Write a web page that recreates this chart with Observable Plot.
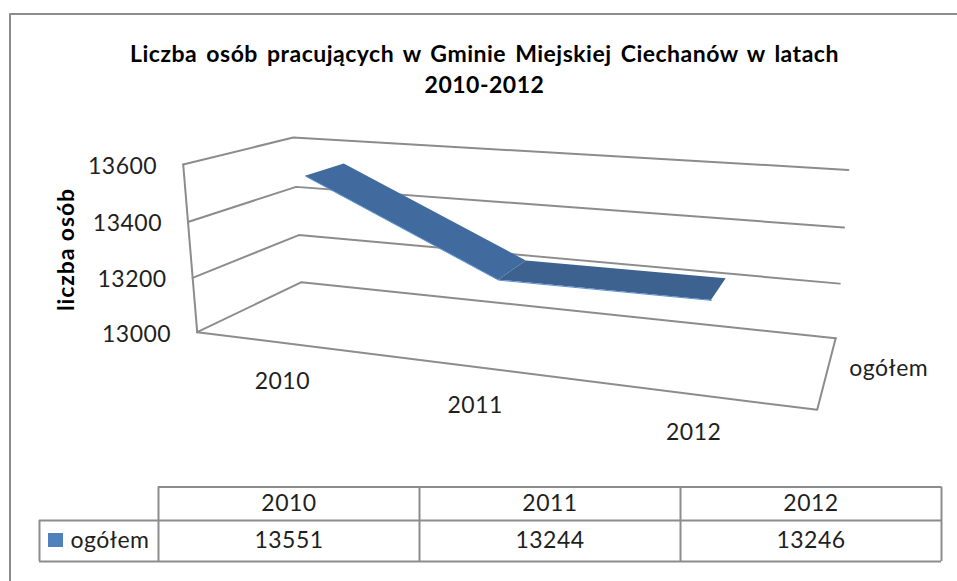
<!DOCTYPE html>
<html lang="pl">
<head>
<meta charset="utf-8">
<script src="https://cdn.jsdelivr.net/npm/d3@7"></script>
<script src="https://cdn.jsdelivr.net/npm/@observablehq/plot@0.6"></script>
<style>
html,body{margin:0;padding:0;background:#fff}
svg{display:block}
.lbl{letter-spacing:.5px}
.ttl{letter-spacing:.5px;word-spacing:3px}
.ax{letter-spacing:.9px}
</style>
</head>
<body>
<div id="chart"></div>
<script>
// data
const years = [2010, 2011, 2012];
const totals = [13551, 13244, 13246];
const seriesName = "ogółem";
const yTicks = [13000, 13200, 13400, 13600];
const titleLines = ["Liczba osób pracujących w Gminie Miejskiej Ciechanów w latach", "2010-2012"];
const yTitle = "liczba osób";

// 3-D box -> page plane: a projective camera fitted to the reference box
const camera = {
  origin: [196.7, 331.7],
  uEnd: [816.7, 409.3], uW: 0.8286,
  vEnd: [182.7, 164], vW: 0.96,
  dEnd: [301, 281.7], dW: 1.1666
};
const ribbonDepth = [0.27, 0.66];
const catU = i => (i + 0.5) / years.length;
const valV = v => (v - yTicks[0]) / (yTicks[yTicks.length - 1] - yTicks[0]);
function project(u, v, d) {
  const c = camera, D = 1 + (c.uW - 1) * u + (c.vW - 1) * v + (c.dW - 1) * d;
  const at = k => (c.origin[k]
    + (c.uW * c.uEnd[k] - c.origin[k]) * u
    + (c.vW * c.vEnd[k] - c.origin[k]) * v
    + (c.dW * c.dEnd[k] - c.origin[k]) * d) / D;
  return [at(0), at(1)];
}

// grid: left wall + back wall polylines at each tick
const gridLines = yTicks.map(t => [project(0, valV(t), 0), project(0, valV(t), 1), project(1, valV(t), 1)]);
const floorEdge = [project(0, 0, 0), project(1, 0, 0), project(1, 0, 1)];
const valueAxis = [project(0, 1, 0), project(0, 0, 0)];
const tickLabels = yTicks.map(t => ({p: project(0, valV(t), 0), label: String(t)}));
const catLabels = years.map((y, i) => ({p: project(catU(i), 0, 0), label: String(y)}));
const seriesLabel = [{p: project(1, 0, 0.5), label: seriesName}];
const ribbon = i => [i, i + 1].map(j => ({
  a: project(catU(j), valV(totals[j]), ribbonDepth[0]),
  b: project(catU(j), valV(totals[j]), ribbonDepth[1])
}));
const frontEdge = totals.map((v, j) => project(catU(j), valV(v), ribbonDepth[0]));

// data table layout
const tableX = [39, 158, 419, 680, 941];
const tableY = [486.5, 520, 561];
const rowMid = [503, 540];
const colMid = [0, 1, 2].map(i => (tableX[i + 1] + tableX[i + 2]) / 2);
const tableCells = [
  ...years.map((y, i) => ({x: colMid[i], y: rowMid[0], label: String(y)})),
  ...totals.map((v, i) => ({x: colMid[i], y: rowMid[1], label: String(v)}))
];

const grey = "#8c8c8c", ink = "#1f1f1f", font = "Lato", size = 23;
const gridOpts = {x: p => p[0], y: p => p[1], stroke: grey, strokeWidth: 2, curve: "linear"};

const plot = Plot.plot({
  width: 957, height: 581, margin: 0,
  x: {domain: [0, 957], range: [0, 957], axis: null},
  y: {domain: [0, 581], range: [0, 581], axis: null},
  style: {background: "#fff"},
  marks: [
    // outer frame (top and left edges are all that show)
    Plot.ruleY([13.5], {x1: 9.5, x2: 957, stroke: grey, strokeWidth: 2}),
    Plot.ruleX([9.5], {y1: 13.5, y2: 581, stroke: grey, strokeWidth: 2}),
    // title
    Plot.text(titleLines, {x: 484, y: (d, i) => 54 + i * 31.5, text: d => d, fontFamily: font, fontWeight: 700, fontSize: 23, fill: "#000", className: "ttl"}),
    Plot.text([yTitle], {x: 66, y: 249, text: d => d, rotate: -90, fontFamily: font, fontWeight: 700, fontSize: 23, fill: "#000", className: "ax"}),
    // box
    ...gridLines.map(l => Plot.line(l, gridOpts)),
    Plot.line(floorEdge, gridOpts),
    Plot.line(valueAxis, gridOpts),
    // series ribbon
    Plot.area(ribbon(0), {x1: d => d.a[0], y1: d => d.a[1], x2: d => d.b[0], y2: d => d.b[1], fill: "#416b9f", curve: "linear"}),
    Plot.area(ribbon(1), {x1: d => d.a[0], y1: d => d.a[1], x2: d => d.b[0], y2: d => d.b[1], fill: "#3e6290", curve: "linear"}),
    Plot.line(frontEdge, {x: p => p[0], y: p => p[1], stroke: "#5b8fd0", strokeWidth: 1, curve: "linear"}),
    // axis labels
    Plot.text(tickLabels, {x: d => d.p[0], y: d => d.p[1], text: "label", dx: -26, dy: 2, textAnchor: "end", fontFamily: font, fontSize: size, fill: ink, className: "lbl"}),
    Plot.text(catLabels, {x: d => d.p[0], y: d => d.p[1], text: "label", dx: -3, dy: 38, fontFamily: font, fontSize: size, fill: ink, className: "lbl"}),
    Plot.text(seriesLabel, {x: d => d.p[0], y: d => d.p[1], text: "label", dx: 22, dy: -2, textAnchor: "start", fontFamily: font, fontSize: size, fill: ink, className: "lbl"}),
    // data table
    Plot.ruleY([tableY[0]], {x1: tableX[1], x2: tableX[4], stroke: grey, strokeWidth: 2}),
    Plot.ruleY([tableY[1], tableY[2]], {x1: tableX[0], x2: tableX[4], stroke: grey, strokeWidth: 2}),
    Plot.ruleX([tableX[0]], {y1: tableY[1], y2: tableY[2], stroke: grey, strokeWidth: 2}),
    Plot.ruleX(tableX.slice(1), {y1: tableY[0], y2: tableY[2], stroke: grey, strokeWidth: 2}),
    Plot.text(tableCells, {x: "x", y: "y", text: "label", fontFamily: font, fontSize: size, fill: ink, className: "lbl"}),
    Plot.rect([seriesName], {x1: 48, x2: 63, y1: 533, y2: 547, fill: "#4f81bd"}),
    Plot.text([seriesName], {x: 70, y: rowMid[1], text: d => d, textAnchor: "start", fontFamily: font, fontSize: size, fill: ink, className: "lbl"})
  ]
});
document.getElementById("chart").append(plot);
</script>
</body>
</html>
